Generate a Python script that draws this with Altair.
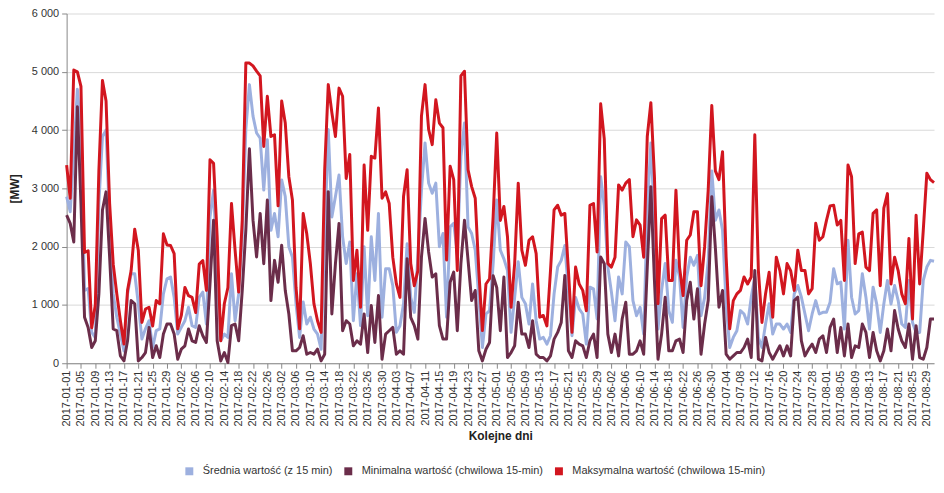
import altair as alt
import pandas as pd

dates = pd.date_range("2017-01-01", "2017-08-31", freq="D").strftime("%Y-%m-%d").tolist()
tick_labels = dates[::4]
y_ticks = [0, 1000, 2000, 3000, 4000, 5000, 6000]

series_names = [
    "Średnia wartość (z 15 min)",
    "Minimalna wartość (chwilowa 15-min)",
    "Maksymalna wartość (chwilowa 15-min)",
]
colors = ["#9DB0DF", "#6B2D4A", "#D2161F"]

avg_vals = [
    2860, 2600, 3600, 4700, 3950, 1250, 1280, 530, 440, 2740,
    3890, 4000, 2450, 1190, 790, 500, 210, 1190, 1535, 1535,
    1020, 414, 590, 730, 270, 560, 590, 1190, 1450, 1480,
    1130, 500, 615, 730, 960, 644, 615, 1130, 1220, 673,
    2510, 2970, 1590, 385, 500, 443, 1535, 730, 1190, 2170,
    4010, 4780, 4240, 3950, 3860, 2970, 3835, 2280, 2570, 2170,
    3145, 2860, 2000, 1820, 1020, 443, 1050, 673, 790, 587,
    500, 241, 2170, 4010, 2510, 2860, 3230, 2170, 1710, 2080,
    730, 1535, 644, 2000, 816, 2170, 1420, 2570, 790, 1620,
    1620, 1330, 530, 644, 1020, 2050, 1130, 874, 1820, 2970,
    3780, 3090, 2915, 3090, 2000, 2225, 790, 2340, 2400, 1880,
    3550, 4120, 2340, 2225, 1940, 1130, 270, 845, 903, 1710,
    2800, 1940, 1790, 1590, 530, 1130, 1740, 1130, 1020, 673,
    1360, 730, 414, 443, 328, 472, 1190, 1650, 1765, 2020,
    1250, 472, 1130, 932, 845, 328, 1305, 1277, 760, 3200,
    2700, 1650, 1220, 730, 1480, 1190, 2080, 2000, 1075, 816,
    960, 500, 2630, 3780, 2455, 587, 1250, 1710, 903, 701,
    1765, 1480, 615, 1480, 1820, 1680, 1850, 816, 1130, 1765,
    3300, 2455, 2630, 2280, 1020, 270, 443, 558, 903, 845,
    673, 1130, 1480, 443, 270, 673, 1020, 500, 673, 673,
    587, 673, 529, 1190, 1334, 1133, 845, 558, 845, 1075,
    845, 874, 874, 1047, 1622, 1363, 1392, 587, 2110, 1133,
    845, 903, 1535, 1133, 587, 1305, 1018, 529, 1018, 1420,
    1018, 1334, 1075, 673, 615, 1420, 701, 529, 529, 1420,
    1650, 1765, 1750,
]

min_vals = [
    2540, 2400, 2080, 4400, 2740, 790, 615, 270, 385, 1190,
    2630, 2940, 1820, 587, 558, 126, 40, 385, 1075, 1018,
    40, 98, 184, 615, 98, 300, 98, 500, 673, 673,
    500, 69, 241, 299, 587, 385, 357, 644, 472, 357,
    1363, 2455, 385, 40, 184, 12, 644, 673, 385, 1250,
    2283, 3680, 2455, 1823, 2570, 1708, 2800, 1075, 1765, 1390,
    2024, 1248, 845, 213, 213, 270, 472, 155, 184, 155,
    241, 40, 155, 2944, 845, 1708, 2398, 558, 730, 673,
    299, 385, 328, 845, 184, 989, 357, 1162, 69, 500,
    558, 615, 155, 213, 155, 1794, 788, 644, 414, 1823,
    2484, 1909, 1478, 1535, 644, 414, 414, 1391, 1564, 558,
    1708, 2455, 1765, 1075, 1248, 213, 40, 241, 357, 1500,
    1300, 558, 1478, 98, 184, 299, 1047, 500, 500, 270,
    730, 155, 98, 98, 40, 126, 414, 529, 701, 1506,
    213, 98, 385, 328, 299, 98, 385, 500, 98, 1823,
    1708, 500, 184, 500, 126, 759, 1047, 155, 155, 213,
    385, 155, 1650, 3030, 1420, 69, 500, 1133, 213, 213,
    385, 414, 184, 1075, 1391, 759, 1277, 155, 673, 1075,
    2858, 1980, 960, 1248, 155, 69, 126, 184, 184, 270,
    414, 98, 1593, 69, 40, 443, 184, 69, 184, 299,
    126, 299, 126, 1075, 1133, 385, 126, 241, 328, 184,
    414, 472, 184, 615, 759, 184, 615, 126, 673, 98,
    299, 270, 673, 529, 98, 529, 213, 40, 213, 587,
    213, 903, 587, 385, 270, 673, 69, 644, 98, 69,
    270, 759, 760,
]

max_vals = [
    3400, 2830, 5030, 5000, 4750, 1900, 1930, 610, 1000, 3300,
    4850, 4500, 2740, 1700, 1190, 730, 330, 1250, 1590, 2300,
    1940, 700, 930, 960, 640, 1075, 1020, 2220, 2030, 2020,
    1880, 590, 820, 1300, 1160, 1130, 870, 1700, 1760, 1250,
    3490, 3430, 2170, 385, 1020, 1300, 2740, 1940, 1220, 2455,
    5150, 5150, 5100, 5010, 4930, 3720, 4580, 3890, 3920, 2700,
    4500, 4120, 3200, 2800, 1300, 590, 2570, 2220, 1710, 1020,
    730, 530, 3320, 4780, 4300, 3890, 4720, 4580, 3170, 3580,
    1420, 1940, 960, 3400, 2280, 3550, 3520, 4380, 2830, 2940,
    2740, 1820, 1360, 1130, 2860, 3320, 1710, 1330, 1590, 4240,
    4780, 4010, 3750, 4520, 4120, 4040, 1770, 3380, 3150, 1590,
    4930, 5010, 3320, 3030, 2830, 1590, 560, 1360, 1450, 2510,
    3950, 2450, 2690, 2170, 960, 1710, 3090, 1940, 1680, 2110,
    2170, 1880, 790, 820, 640, 1590, 2630, 2710, 2540, 2570,
    1590, 530, 1650, 1360, 1250, 900, 2710, 2740, 1910, 4450,
    3850, 1710, 1650, 1820, 3060, 2970, 3090, 3150, 2170, 2460,
    2370, 1820, 3890, 4470, 3200, 1020, 2480, 2540, 1420, 1420,
    2970, 1650, 1160, 2110, 2200, 2600, 2600, 1330, 2000, 2970,
    4420, 3300, 3150, 3630, 1820, 590, 1075, 1190, 1250, 1480,
    1360, 1480, 3920, 1590, 700, 1190, 1560, 790, 1820, 1590,
    1190, 1710, 1590, 1250, 1940, 1590, 1590, 1190, 1280, 2400,
    2110, 2170, 2450, 2700, 2710, 2370, 2450, 1420, 3400, 3200,
    1710, 2220, 2250, 1650, 1590, 2570, 2630, 1330, 2660, 2910,
    1360, 1820, 1590, 1190, 1020, 2140, 760, 2540, 1360, 2280,
    3260, 3150, 3100,
]

rows = []
for name, vals in zip(series_names, [avg_vals, min_vals, max_vals]):
    for d, v in zip(dates, vals):
        rows.append({"date": d, "series": name, "value": v})
df = pd.DataFrame(rows)

FONT = "Liberation Sans"
color_scale = alt.Scale(domain=series_names, range=colors)

x_enc = alt.X(
    "date:O",
    scale=alt.Scale(type="point", padding=0),
    title="Kolejne dni",
    axis=alt.Axis(
        values=tick_labels,
        labelAngle=270,
        labelFont=FONT,
        labelFontSize=11,
        labelColor="#333333",
        labelOverlap=False,
        labelPadding=2,
        tickSize=5,
        tickColor="#888888",
        domainColor="#888888",
        grid=False,
        titleFont=FONT,
        titleFontSize=12,
        titleFontWeight="bold",
        titleColor="#222222",
        titlePadding=4,
    ),
)

y_enc = alt.Y(
    "value:Q",
    scale=alt.Scale(domain=[0, 6000], nice=False),
    title="[MW]",
    axis=alt.Axis(
        values=y_ticks,
        labelExpr="replace(format(datum.value, ','), ',', ' ')",
        labelFont=FONT,
        labelFontSize=11,
        labelColor="#333333",
        labelPadding=3,
        tickSize=5,
        tickColor="#888888",
        domainColor="#888888",
        gridColor="#d9d9d9",
        titleFont=FONT,
        titleFontSize=12,
        titleFontWeight="bold",
        titleColor="#222222",
        titlePadding=10,
    ),
)

color_enc = alt.Color(
    "series:N",
    scale=color_scale,
    title=None,
    legend=alt.Legend(
        orient="none",
        legendX=118,
        legendY=455,
        direction="horizontal",
        symbolType="square",
        symbolSize=16,
        symbolStrokeWidth=4,
        labelFont=FONT,
        labelFontSize=11,
        labelColor="#333333",
        labelOffset=8,
        labelLimit=400,
        columnPadding=5,
    ),
)


def series_layer(name):
    return (
        alt.Chart(df)
        .transform_filter(alt.datum.series == name)
        .mark_line(strokeWidth=3, strokeJoin="round")
        .encode(x=x_enc, y=y_enc, color=color_enc)
    )


chart = (
    alt.layer(*[series_layer(n) for n in series_names])
    .properties(
        width=873,
        height=352,
        autosize=alt.AutoSizeParams(type="none"),
        padding={"left": 59, "top": 4, "right": 2, "bottom": 120},
    )
    .configure_view(stroke=None)
)

chart.save("out.html", embed_options={"renderer": "svg", "actions": False})
